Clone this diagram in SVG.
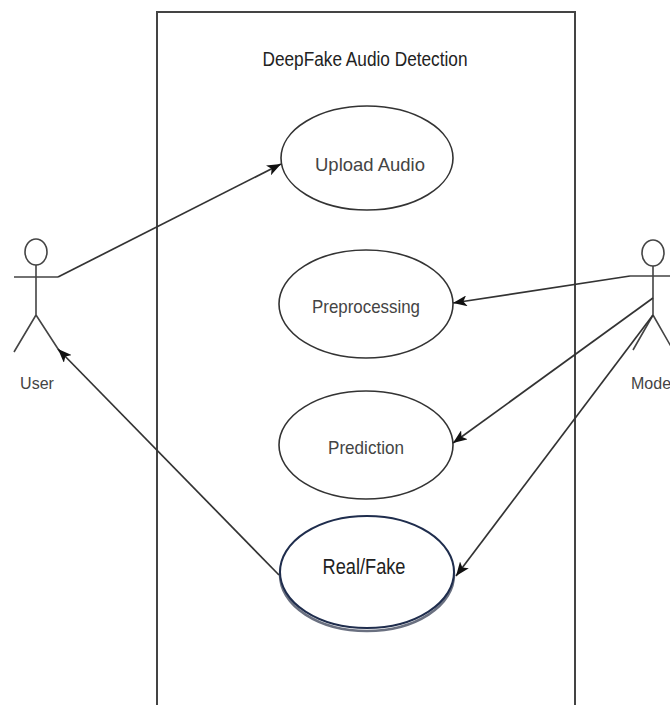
<svg xmlns="http://www.w3.org/2000/svg" width="670" height="705" viewBox="0 0 670 705">
<defs>
<style>
.uc{fill:#fff;stroke:#333;stroke-width:1.6}
.lbl{font-family:"Liberation Sans",Arial,sans-serif;font-size:19px;fill:#444;text-anchor:middle}
.act{fill:none;stroke:#444;stroke-width:1.6}
.alb{font-family:"Liberation Sans",Arial,sans-serif;font-size:16px;fill:#444}
.con{fill:none;stroke:#333;stroke-width:1.7;marker-end:url(#arr)}
</style>
<marker id="arr" viewBox="0 0 14 11" refX="14" refY="5.5" markerWidth="14" markerHeight="11" markerUnits="userSpaceOnUse" orient="auto">
<path d="M0,0 L14,5.5 L0,11 L3.5,5.5 Z" fill="#111"/>
</marker>
</defs>
<rect width="670" height="705" fill="#fff"/>
<g id="system">
<path d="M157,705 V12 H575 V705" fill="none" stroke="#444" stroke-width="2"/>
<text x="365" y="66" font-family="'Liberation Sans',Arial,sans-serif" font-size="20" fill="#222" text-anchor="middle" textLength="205" lengthAdjust="spacingAndGlyphs">DeepFake Audio Detection</text>
</g>
<g id="upload">
<ellipse class="uc" cx="367" cy="158" rx="86" ry="52"/>
<text class="lbl" x="370" y="171" textLength="110" lengthAdjust="spacingAndGlyphs">Upload Audio</text>
</g>
<g id="preprocessing">
<ellipse class="uc" cx="366" cy="304" rx="87" ry="54"/>
<text class="lbl" x="366" y="313" textLength="108" lengthAdjust="spacingAndGlyphs">Preprocessing</text>
</g>
<g id="prediction">
<ellipse class="uc" cx="366" cy="445" rx="87" ry="54"/>
<text class="lbl" x="366" y="454" textLength="76" lengthAdjust="spacingAndGlyphs">Prediction</text>
</g>
<g id="realfake">
<ellipse cx="367" cy="575" rx="87" ry="56" fill="none" stroke="#6a7080" stroke-width="2.5"/>
<ellipse cx="367" cy="572" rx="87" ry="56" fill="#fff" stroke="#1f2d4d" stroke-width="2"/>
<text x="364" y="574" font-family="'Liberation Sans',Arial,sans-serif" font-size="22" fill="#222" text-anchor="middle" textLength="83" lengthAdjust="spacingAndGlyphs">Real/Fake</text>
</g>
<g id="user">
<ellipse class="act" cx="36" cy="252" rx="11" ry="13"/>
<path class="act" d="M14,277 H58 M36,265 V315 M36,315 L14,352 M36,315 L60,352"/>
<text class="alb" x="37" y="389" text-anchor="middle">User</text>
</g>
<g id="model">
<ellipse class="act" cx="653" cy="253" rx="11" ry="13"/>
<path class="act" d="M630,276 H676 M653,266 V315 M653,315 L633,350 M653,315 L673,350"/>
<text class="alb" x="631" y="389">Model</text>
</g>
<g id="connectors">
<path class="con" d="M58,277 L281,164"/>
<path class="con" d="M630,276 L453,303"/>
<path class="con" d="M653,298 L453,443"/>
<path class="con" d="M653,315 L456,576"/>
<path class="con" d="M279,575 L58,349"/>
</g>
</svg>
